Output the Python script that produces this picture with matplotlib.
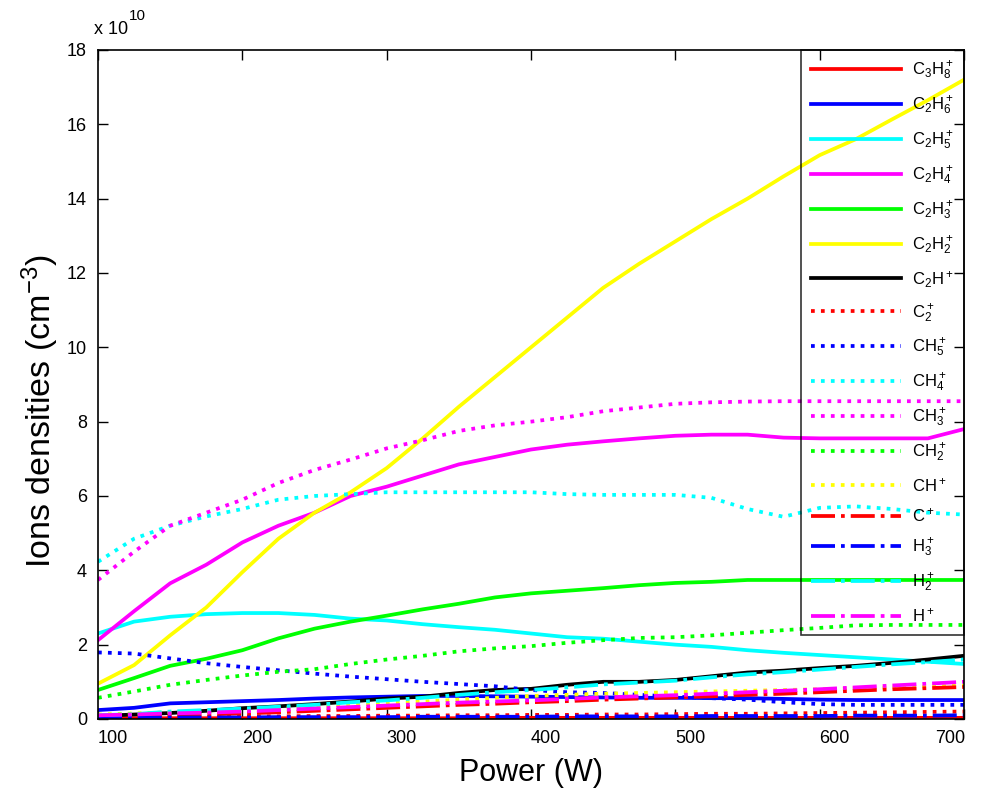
import matplotlib
matplotlib.use("Agg")
import matplotlib.pyplot as plt
from matplotlib.transforms import ScaledTranslation

plt.rcParams['font.family'] = ['Liberation Sans', 'DejaVu Sans']
plt.rcParams['mathtext.default'] = 'regular'

# RF power (W)
power = [100, 125, 150, 175, 200, 225, 250, 275, 300, 325, 350, 375, 400,
         425, 450, 475, 500, 525, 550, 575, 600, 625, 650, 675, 700]

# Ion densities, in units of 1e10 cm^-3
c3h8 = [0.02, 0.02, 0.02, 0.02, 0.02, 0.02, 0.02, 0.02, 0.02, 0.02, 0.02, 0.03, 0.03,
        0.03, 0.03, 0.03, 0.03, 0.03, 0.03, 0.03, 0.03, 0.03, 0.03, 0.03, 0.03]
c2h6 = [0.24, 0.30, 0.42, 0.45, 0.48, 0.51, 0.55, 0.58, 0.60, 0.62, 0.62, 0.61, 0.60,
        0.59, 0.58, 0.57, 0.57, 0.56, 0.56, 0.54, 0.52, 0.51, 0.51, 0.51, 0.51]
c2h5 = [2.30, 2.62, 2.75, 2.82, 2.85, 2.85, 2.80, 2.70, 2.65, 2.55, 2.47, 2.40, 2.30,
        2.20, 2.16, 2.08, 2.00, 1.94, 1.85, 1.78, 1.72, 1.66, 1.60, 1.54, 1.48]
c2h4 = [2.12, 2.90, 3.65, 4.15, 4.75, 5.20, 5.55, 6.00, 6.25, 6.55, 6.85, 7.05, 7.25,
        7.38, 7.47, 7.55, 7.62, 7.65, 7.65, 7.57, 7.55, 7.55, 7.55, 7.55, 7.80]
c2h3 = [0.78, 1.10, 1.43, 1.62, 1.85, 2.17, 2.43, 2.62, 2.78, 2.95, 3.10, 3.27, 3.38,
        3.45, 3.52, 3.60, 3.66, 3.69, 3.74, 3.74, 3.74, 3.74, 3.74, 3.74, 3.74]
c2h2 = [0.95, 1.45, 2.25, 3.00, 3.95, 4.85, 5.55, 6.10, 6.75, 7.55, 8.40, 9.20, 10.00,
        10.80, 11.60, 12.25, 12.85, 13.45, 14.00, 14.60, 15.17, 15.60, 16.13, 16.65, 17.20]
c2h = [0.08, 0.12, 0.16, 0.22, 0.29, 0.34, 0.40, 0.47, 0.55, 0.60, 0.70, 0.78, 0.81,
       0.92, 1.00, 1.00, 1.05, 1.15, 1.25, 1.30, 1.37, 1.43, 1.51, 1.60, 1.70]
c2 = [0.05, 0.05, 0.06, 0.06, 0.07, 0.07, 0.08, 0.08, 0.09, 0.09, 0.10, 0.10, 0.11,
      0.11, 0.12, 0.12, 0.13, 0.14, 0.14, 0.15, 0.16, 0.17, 0.18, 0.19, 0.20]
ch5 = [1.79, 1.76, 1.63, 1.50, 1.40, 1.31, 1.22, 1.14, 1.07, 1.00, 0.94, 0.88, 0.78,
       0.72, 0.70, 0.65, 0.60, 0.56, 0.52, 0.45, 0.40, 0.38, 0.38, 0.38, 0.38]
ch4 = [4.23, 4.85, 5.20, 5.45, 5.65, 5.90, 6.00, 6.05, 6.10, 6.10, 6.10, 6.10, 6.10,
       6.05, 6.03, 6.03, 6.03, 5.95, 5.65, 5.44, 5.68, 5.72, 5.65, 5.55, 5.50]
ch3 = [3.74, 4.50, 5.20, 5.55, 5.90, 6.35, 6.70, 6.98, 7.28, 7.50, 7.75, 7.90, 8.00,
       8.12, 8.28, 8.38, 8.48, 8.52, 8.54, 8.55, 8.55, 8.55, 8.55, 8.55, 8.55]
ch2 = [0.57, 0.74, 0.92, 1.05, 1.17, 1.27, 1.34, 1.48, 1.60, 1.70, 1.82, 1.90, 1.96,
       2.05, 2.12, 2.18, 2.20, 2.25, 2.32, 2.39, 2.45, 2.52, 2.53, 2.53, 2.53]
ch = [0.12, 0.15, 0.18, 0.21, 0.25, 0.29, 0.33, 0.37, 0.42, 0.47, 0.52, 0.57, 0.62,
      0.65, 0.68, 0.70, 0.72, 0.74, 0.76, 0.78, 0.80, 0.82, 0.85, 0.87, 0.90]
c = [0.05, 0.07, 0.10, 0.12, 0.15, 0.18, 0.22, 0.26, 0.30, 0.34, 0.38, 0.41, 0.45,
     0.48, 0.52, 0.55, 0.58, 0.61, 0.65, 0.68, 0.72, 0.76, 0.80, 0.83, 0.86]
h3 = [0.03, 0.03, 0.04, 0.04, 0.04, 0.05, 0.05, 0.05, 0.05, 0.06, 0.06, 0.06, 0.06,
      0.07, 0.07, 0.07, 0.07, 0.08, 0.08, 0.08, 0.08, 0.09, 0.09, 0.09, 0.10]
h2 = [0.10, 0.13, 0.20, 0.24, 0.28, 0.33, 0.38, 0.45, 0.50, 0.57, 0.65, 0.72, 0.78,
      0.85, 0.93, 0.98, 1.03, 1.12, 1.20, 1.26, 1.33, 1.40, 1.47, 1.53, 1.60]
h = [0.10, 0.12, 0.15, 0.17, 0.20, 0.24, 0.28, 0.32, 0.36, 0.40, 0.44, 0.47, 0.50,
     0.54, 0.58, 0.61, 0.64, 0.68, 0.72, 0.76, 0.80, 0.85, 0.90, 0.95, 1.00]

labels = [r'C$_3$H$_8^+$', r'C$_2$H$_6^+$', r'C$_2$H$_5^+$', r'C$_2$H$_4^+$',
          r'C$_2$H$_3^+$', r'C$_2$H$_2^+$', r'C$_2$H$^+$', r'C$_2^+$',
          r'CH$_5^+$', r'CH$_4^+$', r'CH$_3^+$', r'CH$_2^+$', r'CH$^+$',
          r'C$^+$', r'H$_3^+$', r'H$_2^+$', r'H$^+$']
series = [c3h8, c2h6, c2h5, c2h4, c2h3, c2h2, c2h, c2,
          ch5, ch4, ch3, ch2, ch, c, h3, h2, h]
colors = ['#ff0000', '#0000ff', '#00ffff', '#ff00ff', '#00ff00', '#ffff00', '#000000', '#ff0000',
          '#0000ff', '#00ffff', '#ff00ff', '#00ff00', '#ffff00',
          '#ff0000', '#0000ff', '#00ffff', '#ff00ff']
styles = ['-'] * 7 + [':'] * 6 + ['-.'] * 4

fig = plt.figure(figsize=(9.83, 7.92), dpi=100)
ax = fig.add_axes([0.0997, 0.0922, 0.8810, 0.8447])

for vals, lab, col, ls in zip(series, labels, colors, styles):
    ax.plot(power, vals, color=col, linestyle=ls, linewidth=2.7, label=lab)

ax.set_xlim(100, 700)
ax.set_ylim(0, 18)
ax.set_xticks(range(100, 701, 100))
ax.set_yticks(range(0, 19, 2))
ax.tick_params(direction='in', length=7, width=1, top=True, right=True,
               labelsize=13, pad=8)
for sp in ax.spines.values():
    sp.set_linewidth(1.2)

# x tick labels sit a little to the right of their ticks; the last one kept inside the figure
fig.canvas.draw()
shifts = [15, 15, 15, 15, 15, 15, -14]
for lbl, dx in zip(ax.get_xticklabels(), shifts):
    lbl.set_transform(lbl.get_transform() + ScaledTranslation(dx / 100, 0, fig.dpi_scale_trans))

ax.set_xlabel('Power (W)', fontsize=22, labelpad=8)
ax.set_ylabel(r'Ions densities (cm$^{-3}$)', fontsize=24.5)
ax.yaxis.set_label_coords(-0.043, 0.46)
ax.text(-0.005, 1.018, 'x 10', transform=ax.transAxes, fontsize=13,
        ha='left', va='bottom')
ax.text(0.036, 1.04, '10', transform=ax.transAxes, fontsize=11,
        ha='left', va='bottom')

leg = ax.legend(loc='upper right', bbox_to_anchor=(1.0, 1.0), borderaxespad=0,
                fontsize=12, handlelength=5.4, handletextpad=0.7,
                labelspacing=0.74, borderpad=0.6, frameon=True, fancybox=False)
leg.get_frame().set_facecolor('none')
leg.get_frame().set_edgecolor('black')
leg.get_frame().set_linewidth(1.2)

fig.savefig('out.png', dpi=100)
